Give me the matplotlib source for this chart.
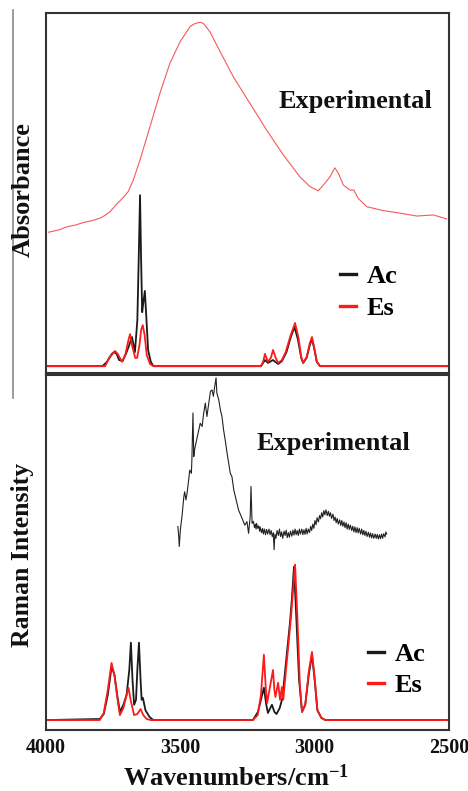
#!/usr/bin/env python3
"""IR and Raman spectra: experimental vs calculated (Ac / Es) in the OH/CH stretch region."""

import matplotlib
matplotlib.use("Agg")
import matplotlib.pyplot as plt
from matplotlib.lines import Line2D

# ------------------------------------------------------------------
# Data (wavenumber in cm-1, intensity in arbitrary units)
# ------------------------------------------------------------------
IR_EXP_WN = [3991, 3950, 3923, 3890, 3861, 3830, 3799, 3780, 3762, 3737, 3712,
             3694, 3675, 3650, 3613, 3576, 3539, 3501, 3464, 3450, 3435, 3425,
             3414, 3390, 3352, 3303, 3241, 3179, 3117, 3055, 3018, 2987, 2962,
             2943, 2925, 2912, 2893, 2868, 2854, 2838, 2806, 2745, 2682, 2620,
             2558, 2509]
IR_EXP_Y = [0.391, 0.398, 0.406, 0.411, 0.418, 0.423, 0.430, 0.438, 0.448, 0.469,
            0.488, 0.504, 0.536, 0.592, 0.684, 0.777, 0.860, 0.920, 0.962, 0.969,
            0.973, 0.974, 0.971, 0.948, 0.893, 0.823, 0.749, 0.675, 0.606, 0.545,
            0.518, 0.506, 0.527, 0.545, 0.570, 0.555, 0.522, 0.508, 0.508, 0.485,
            0.462, 0.451, 0.444, 0.436, 0.439, 0.428]

IR_AC_WN = [4000, 3790, 3773, 3755, 3747, 3737, 3728, 3715, 3700, 3690, 3680,
            3669, 3660, 3655, 3650, 3646, 3642, 3637, 3632, 3626, 3620, 3610,
            3600, 3200, 3185, 3174, 3155, 3136, 3122, 3105, 3090, 3075, 3062,
            3050, 3043, 3030, 3018, 3010, 3002, 2992, 2980, 2500]
IR_AC_Y = [0.019, 0.019, 0.031, 0.053, 0.058, 0.053, 0.036, 0.033, 0.058, 0.078,
           0.100, 0.058, 0.147, 0.314, 0.494, 0.314, 0.169, 0.200, 0.228, 0.147,
           0.064, 0.031, 0.019, 0.019, 0.036, 0.028, 0.036, 0.025, 0.033, 0.058,
           0.097, 0.128, 0.092, 0.042, 0.028, 0.042, 0.078, 0.094, 0.069, 0.031,
           0.019, 0.019]

IR_ES_WN = [4000, 3780, 3765, 3743, 3733, 3717, 3705, 3693, 3687, 3680, 3668,
            3661, 3652, 3646, 3640, 3633, 3625, 3613, 3600, 3200, 3192, 3185,
            3174, 3163, 3155, 3145, 3136, 3122, 3108, 3090, 3073, 3060, 3050,
            3043, 3030, 3018, 3010, 3002, 2992, 2980, 2500]
IR_ES_Y = [0.019, 0.019, 0.042, 0.061, 0.053, 0.031, 0.050, 0.092, 0.108, 0.078,
           0.042, 0.042, 0.078, 0.119, 0.133, 0.106, 0.050, 0.025, 0.019, 0.019,
           0.031, 0.053, 0.031, 0.042, 0.064, 0.042, 0.028, 0.036, 0.058, 0.103,
           0.139, 0.097, 0.044, 0.028, 0.044, 0.083, 0.100, 0.072, 0.031, 0.019,
           0.019]

RAMAN_EXP_WN = [3509, 3506, 3504, 3500, 3494, 3487, 3484, 3479, 3475, 3469, 3465,
                3459, 3457, 3453, 3450, 3447, 3442, 3434, 3426, 3419, 3413, 3407,
                3401, 3394, 3388, 3382, 3377, 3372, 3367, 3364, 3357, 3351, 3345,
                3339, 3333, 3326, 3320, 3314, 3308, 3301, 3295, 3289, 3283, 3270,
                3260, 3252, 3246, 3240, 3237, 3233,
                3228, 3224, 3221, 3218, 3216, 3212, 3208, 3205, 3203, 3198, 3194,
                3191, 3187, 3183, 3179, 3175, 3170, 3166, 3162, 3158, 3154, 3151,
                3148, 3144, 3140, 3135, 3131, 3127, 3123, 3119, 3114, 3110, 3106,
                3102, 3098, 3094, 3090, 3085, 3081, 3077, 3073, 3069, 3065, 3061,
                3057, 3053, 3048, 3044, 3040, 3036, 3032, 3028, 3024, 3019, 3015,
                3011, 3007, 3003, 2999, 2995, 2991, 2986, 2982, 2978, 2974, 2970,
                2966, 2962, 2958, 2953, 2949, 2945, 2941, 2937, 2932, 2928, 2924,
                2920, 2916, 2912, 2907, 2903, 2899, 2895, 2891, 2887, 2883, 2879,
                2875, 2871, 2867, 2862, 2858, 2854, 2850, 2846, 2842, 2838, 2834,
                2829, 2825, 2821, 2817, 2813, 2809, 2805, 2800, 2796, 2792, 2788,
                2784, 2780, 2775, 2771, 2767, 2763, 2759, 2755, 2751, 2747, 2743,
                2738, 2735, 2732]
RAMAN_EXP_Y = [0.573, 0.545, 0.517, 0.563, 0.601, 0.657, 0.671, 0.648, 0.667, 0.704,
               0.732, 0.723, 0.761, 0.893, 0.770, 0.789, 0.808, 0.836, 0.864, 0.855,
               0.893, 0.921, 0.883, 0.921, 0.954, 0.958, 0.940, 0.968, 0.992, 0.949,
               0.930, 0.902, 0.883, 0.845, 0.817, 0.780, 0.751, 0.723, 0.714, 0.676,
               0.657, 0.638, 0.619, 0.596, 0.577, 0.587, 0.554, 0.601, 0.686, 0.582,
               0.588, 0.570, 0.580, 0.566, 0.582, 0.568, 0.575, 0.560, 0.572, 0.556,
               0.568, 0.552, 0.566, 0.550, 0.565, 0.552, 0.566, 0.550, 0.562, 0.545,
               0.556, 0.508, 0.552, 0.540, 0.562, 0.548, 0.566, 0.545, 0.558, 0.540,
               0.560, 0.548, 0.563, 0.542, 0.556, 0.543, 0.560, 0.546, 0.563, 0.549,
               0.566, 0.550, 0.562, 0.548, 0.566, 0.552, 0.566, 0.550, 0.564, 0.551,
               0.568, 0.552, 0.566, 0.556, 0.574, 0.562, 0.580, 0.568, 0.590, 0.578,
               0.598, 0.586, 0.604, 0.595, 0.612, 0.600, 0.618, 0.606, 0.620, 0.604,
               0.616, 0.602, 0.612, 0.596, 0.608, 0.590, 0.600, 0.584, 0.596, 0.580,
               0.592, 0.576, 0.590, 0.574, 0.586, 0.570, 0.584, 0.566, 0.580, 0.565,
               0.577, 0.562, 0.574, 0.558, 0.572, 0.556, 0.570, 0.555, 0.568, 0.552,
               0.566, 0.550, 0.562, 0.548, 0.560, 0.545, 0.557, 0.543, 0.555, 0.541,
               0.553, 0.540, 0.552, 0.540, 0.551, 0.538, 0.550, 0.539, 0.552, 0.540,
               0.553, 0.544, 0.558, 0.552]

RAMAN_AC_WN = [4000, 3800, 3785, 3770, 3756, 3745, 3735, 3725, 3712, 3700, 3690,
               3684, 3678, 3672, 3665, 3660, 3654, 3648, 3644, 3639, 3630, 3615,
               3600, 3230, 3211, 3200, 3189, 3180, 3174, 3165, 3159, 3150, 3142,
               3130, 3120, 3107, 3092, 3085, 3077, 3068, 3058, 3047, 3035, 3022,
               3010, 3000, 2990, 2975, 2960, 2500]
RAMAN_AC_Y = [0.028, 0.031, 0.045, 0.099, 0.178, 0.155, 0.099, 0.051, 0.071, 0.099,
              0.169, 0.246, 0.141, 0.071, 0.085, 0.169, 0.246, 0.141, 0.085, 0.090,
              0.056, 0.037, 0.028, 0.028, 0.051, 0.085, 0.119, 0.071, 0.048, 0.062,
              0.071, 0.051, 0.045, 0.062, 0.090, 0.189, 0.302, 0.367, 0.460, 0.311,
              0.141, 0.051, 0.071, 0.155, 0.212, 0.141, 0.056, 0.034, 0.028, 0.028]

RAMAN_ES_WN = [4000, 3800, 3785, 3770, 3756, 3745, 3735, 3725, 3712, 3700, 3693,
               3685, 3672, 3660, 3648, 3638, 3625, 3610, 3230, 3212, 3200, 3189,
               3182, 3177, 3165, 3155, 3150, 3146, 3136, 3129, 3122, 3117, 3103,
               3088, 3073, 3064, 3055, 3047, 3035, 3022, 3010, 3000, 2990, 2975,
               2960, 2500]
RAMAN_ES_Y = [0.028, 0.028, 0.048, 0.113, 0.189, 0.153, 0.093, 0.042, 0.062, 0.099,
              0.119, 0.085, 0.042, 0.045, 0.059, 0.042, 0.031, 0.028, 0.028, 0.042,
              0.099, 0.212, 0.119, 0.076, 0.127, 0.169, 0.113, 0.093, 0.133, 0.085,
              0.121, 0.085, 0.198, 0.319, 0.466, 0.311, 0.127, 0.051, 0.071, 0.164,
              0.220, 0.147, 0.056, 0.034, 0.028, 0.028]

X_TICKS = [4000, 3500, 3000, 2500]
SERIES_LABELS = ["Ac", "Es"]

# ------------------------------------------------------------------
# Style
# ------------------------------------------------------------------
SERIF = "Liberation Serif"
INK = "#111111"
SPINE = "#333333"
EXP_RED = "#f45a5a"
CALC_RED = "#ff1a1a"
CALC_BLACK = "#1a1a1a"

plt.rcParams.update({
    "font.family": SERIF,
    "font.weight": "bold",
    "mathtext.fontset": "custom",
    "mathtext.rm": "Liberation Serif:bold",
    "mathtext.bf": "Liberation Serif:bold",
    "mathtext.it": "Liberation Serif:bold",
})

W, H = 468, 791
fig = plt.figure(figsize=(W / 100, H / 100), dpi=100, facecolor="white")


def px_axes(left, top, right, bottom):
    return fig.add_axes([left / W, 1 - bottom / H, (right - left) / W, (bottom - top) / H])


ax_ir = px_axes(46, 13, 449, 373)
ax_ra = px_axes(46, 375, 449, 730)

for ax in (ax_ir, ax_ra):
    ax.set_xlim(4000, 2500)
    ax.set_ylim(0, 1)
    ax.set_yticks([])
    for s in ax.spines.values():
        s.set_color(SPINE)
        s.set_linewidth(1.5)
    ax.tick_params(axis="x", length=0)

ax_ir.set_xticks([])
ax_ra.set_xticks(X_TICKS)
ax_ra.set_xticklabels([str(t) for t in X_TICKS], fontsize=14.5, fontweight="bold")
ax_ra.tick_params(axis="x", pad=6, colors=INK)

# IR panel
ax_ir.plot(IR_EXP_WN, IR_EXP_Y, color=EXP_RED, lw=0.8)
ax_ir.plot(IR_AC_WN, IR_AC_Y, color=CALC_BLACK, lw=1.3)
ax_ir.plot(IR_ES_WN, IR_ES_Y, color=CALC_RED, lw=1.3)
ax_ir.text(3133, 0.736, "Experimental", fontsize=19, fontweight="bold",
           ha="left", va="baseline", color=INK)

# Raman panel
ax_ra.plot(RAMAN_EXP_WN, RAMAN_EXP_Y, color="#222222", lw=0.8)
ax_ra.plot(RAMAN_AC_WN, RAMAN_AC_Y, color=CALC_BLACK, lw=1.3)
ax_ra.plot(RAMAN_ES_WN, RAMAN_ES_Y, color=CALC_RED, lw=1.3)
ax_ra.text(3218, 0.788, "Experimental", fontsize=19, fontweight="bold",
           ha="left", va="baseline", color=INK)

handles = [Line2D([], [], color=CALC_BLACK, lw=2.4),
           Line2D([], [], color=CALC_RED, lw=2.4)]
for ax, anchor in ((ax_ir, (0.730, 0.224)), (ax_ra, (0.799, 0.169))):
    ax.legend(handles, SERIES_LABELS, loc="center left", bbox_to_anchor=anchor,
              frameon=False, borderaxespad=0, borderpad=0,
              handlelength=0.6, handletextpad=0.4, labelspacing=0.3,
              prop={"family": SERIF, "weight": "bold", "size": 19})

# Axis labels
fig.text(23 / W, 1 - 190 / H, "Absorbance", rotation=90, fontsize=19,
         fontweight="bold", ha="center", va="center", color=INK)
fig.text(23 / W, 1 - 555 / H, "Raman Intensity", rotation=90, fontsize=18.5,
         fontweight="bold", ha="center", va="center", color=INK)
fig.text(236 / W, 1 - 786 / H, "Wavenumbers/cm$^{-1}$", fontsize=19,
         fontweight="bold", ha="center", va="baseline", color=INK)

# Thin vertical rule at the far left of the upper panel
fig.add_artist(Line2D([13 / W, 13 / W], [1 - 10 / H, 1 - 398 / H],
                      color="#8a8a8a", lw=1.2))

fig.savefig("out.png", dpi=100, facecolor="white")
